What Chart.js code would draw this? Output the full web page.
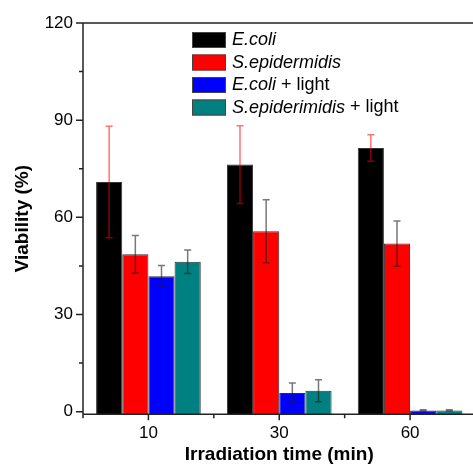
<!DOCTYPE html>
<html lang="en">
<head>
<meta charset="UTF-8">
<title>Viability vs irradiation time</title>
<script src="https://cdn.jsdelivr.net/npm/chart.js"></script>
<style>
  html, body { margin: 0; padding: 0; background: #fff; overflow: hidden; }
  .wrap { width: 480px; height: 464px; position: relative; }
</style>
</head>
<body>
<div class="wrap"><canvas id="chart"></canvas></div>
<script>
// categories (irradiation time, min)
const categories = ['10', '30', '60'];

// series values (viability %) and symmetric error bars
const ecoli = [70.9, 76.3, 81.4];
const ecoliErr = [17.2, 12.0, 4.1];
const sepi = [48.6, 55.7, 51.9];
const sepiErr = [5.8, 9.7, 7.0];
const ecoliLight = [41.8, 5.8, 0.4];
const ecoliLightErr = [3.3, 3.1, 0.2];
const sepiLight = [46.3, 6.5, 0.4];
const sepiLightErr = [3.6, 3.4, 0.2];

// legend text: italic species name + plain suffix
const legendItalic = ['E.coli', 'S.epidermidis', 'E.coli', 'S.epiderimidis'];
const legendSuffix = ['', '', ' + light', ' + light'];

// y axis
const yMin = -0.8;
const yMax = 120;
const yTicks = [0, 30, 60, 90, 120];
const yMinorTicks = [15, 45, 75, 105];

const FONT = "'Liberation Sans', Arial, sans-serif";

const series = [
  { data: ecoli, err: ecoliErr, color: '#000000', errColor: 'rgba(255,0,0,0.55)' },
  { data: sepi, err: sepiErr, color: '#ff0000', errColor: 'rgba(30,30,30,0.6)' },
  { data: ecoliLight, err: ecoliLightErr, color: '#0000ff', errColor: 'rgba(30,30,30,0.6)' },
  { data: sepiLight, err: sepiLightErr, color: '#008080', errColor: 'rgba(30,30,30,0.6)' }
];

// error bars, axes frame, ticks and the legend
const decor = {
  id: 'decor',
  afterDatasetsDraw(chart) {
    const ctx = chart.ctx;
    const ys = chart.scales.y;
    ctx.save();
    series.forEach((s, i) => {
      const meta = chart.getDatasetMeta(i);
      meta.data.forEach((bar, j) => {
        const top = ys.getPixelForValue(s.data[j] + s.err[j]);
        const bot = ys.getPixelForValue(s.data[j] - s.err[j]);
        ctx.strokeStyle = s.errColor;
        ctx.lineWidth = 1.5;
        ctx.beginPath();
        ctx.moveTo(bar.x, top); ctx.lineTo(bar.x, bot);
        ctx.moveTo(bar.x - 3.5, top); ctx.lineTo(bar.x + 3.5, top);
        ctx.moveTo(bar.x - 3.5, bot); ctx.lineTo(bar.x + 3.5, bot);
        ctx.stroke();
      });
    });
    ctx.restore();
  },
  afterDraw(chart) {
    const ctx = chart.ctx;
    const a = chart.chartArea;
    const xs = chart.scales.x;
    const ys = chart.scales.y;
    ctx.save();
    ctx.strokeStyle = '#222';
    ctx.lineWidth = 1.5;
    ctx.beginPath();
    // frame: left, bottom, top
    ctx.moveTo(a.left, a.top); ctx.lineTo(a.left, a.bottom);
    ctx.moveTo(a.left, a.bottom); ctx.lineTo(chart.width, a.bottom);
    ctx.moveTo(a.left, a.top); ctx.lineTo(chart.width, a.top);
    // y ticks
    yTicks.forEach(v => {
      const y = ys.getPixelForValue(v);
      ctx.moveTo(a.left, y); ctx.lineTo(a.left - 7, y);
    });
    yMinorTicks.forEach(v => {
      const y = ys.getPixelForValue(v);
      ctx.moveTo(a.left, y); ctx.lineTo(a.left - 4, y);
    });
    // x ticks
    const px = categories.map((c, i) => xs.getPixelForTick(i));
    px.forEach(x => { ctx.moveTo(x, a.bottom); ctx.lineTo(x, a.bottom + 6); });
    const step = px[1] - px[0];
    const minor = [px[0] - step / 2];
    for (let i = 0; i < px.length - 1; i++) minor.push((px[i] + px[i + 1]) / 2);
    minor.forEach(x => { ctx.moveTo(x, a.bottom); ctx.lineTo(x, a.bottom + 4); });
    ctx.stroke();

    // legend
    ctx.textBaseline = 'middle';
    series.forEach((s, i) => {
      const by = 32 + i * 22.5;
      ctx.fillStyle = s.color;
      ctx.fillRect(192, by, 34, 16);
      ctx.strokeStyle = '#444';
      ctx.lineWidth = 1;
      ctx.strokeRect(192.5, by + 0.5, 33, 15);
      const ty = by + 8;
      ctx.fillStyle = '#000';
      ctx.font = 'italic 18px ' + FONT;
      ctx.fillText(legendItalic[i], 232, ty);
      const w = ctx.measureText(legendItalic[i]).width;
      ctx.font = '18px ' + FONT;
      ctx.fillText(legendSuffix[i], 232 + w, ty);
    });
    ctx.restore();
  }
};

new Chart(document.getElementById('chart'), {
  type: 'bar',
  data: {
    labels: categories,
    datasets: series.map((s, i) => ({
      label: legendItalic[i] + legendSuffix[i],
      data: s.data,
      backgroundColor: s.color,
      borderColor: '#333',
      borderWidth: 1,
      base: yMin,
      categoryPercentage: 0.8,
      barPercentage: 1.0
    }))
  },
  options: {
    responsive: true,
    maintainAspectRatio: false,
    animation: false,
    layout: { padding: { top: 23, right: 4.5, left: 0, bottom: 0 } },
    plugins: { legend: { display: false }, tooltip: { enabled: false } },
    scales: {
      x: {
        grid: { display: false, drawTicks: false },
        border: { display: false },
        ticks: { color: '#000', font: { family: FONT, size: 17 }, padding: 9 },
        title: {
          display: true, text: 'Irradiation time (min)', color: '#000',
          font: { family: FONT, size: 19, weight: 'bold', lineHeight: 1 },
          padding: { top: 0, bottom: 0 }
        },
        afterFit(s) { s.height = 49.7; }
      },
      y: {
        min: yMin, max: yMax,
        grid: { display: false, drawTicks: false },
        border: { display: false },
        afterBuildTicks(s) { s.ticks = yTicks.map(v => ({ value: v })); },
        ticks: { color: '#000', font: { family: FONT, size: 17 }, padding: 10 },
        title: {
          display: true, text: 'Viability (%)', color: '#000',
          font: { family: FONT, size: 19, weight: 'bold', lineHeight: 1.2 },
          padding: { top: 11, bottom: 0 }
        },
        afterFit(s) { s.width = 83; }
      }
    }
  },
  plugins: [decor]
});
</script>
</body>
</html>
